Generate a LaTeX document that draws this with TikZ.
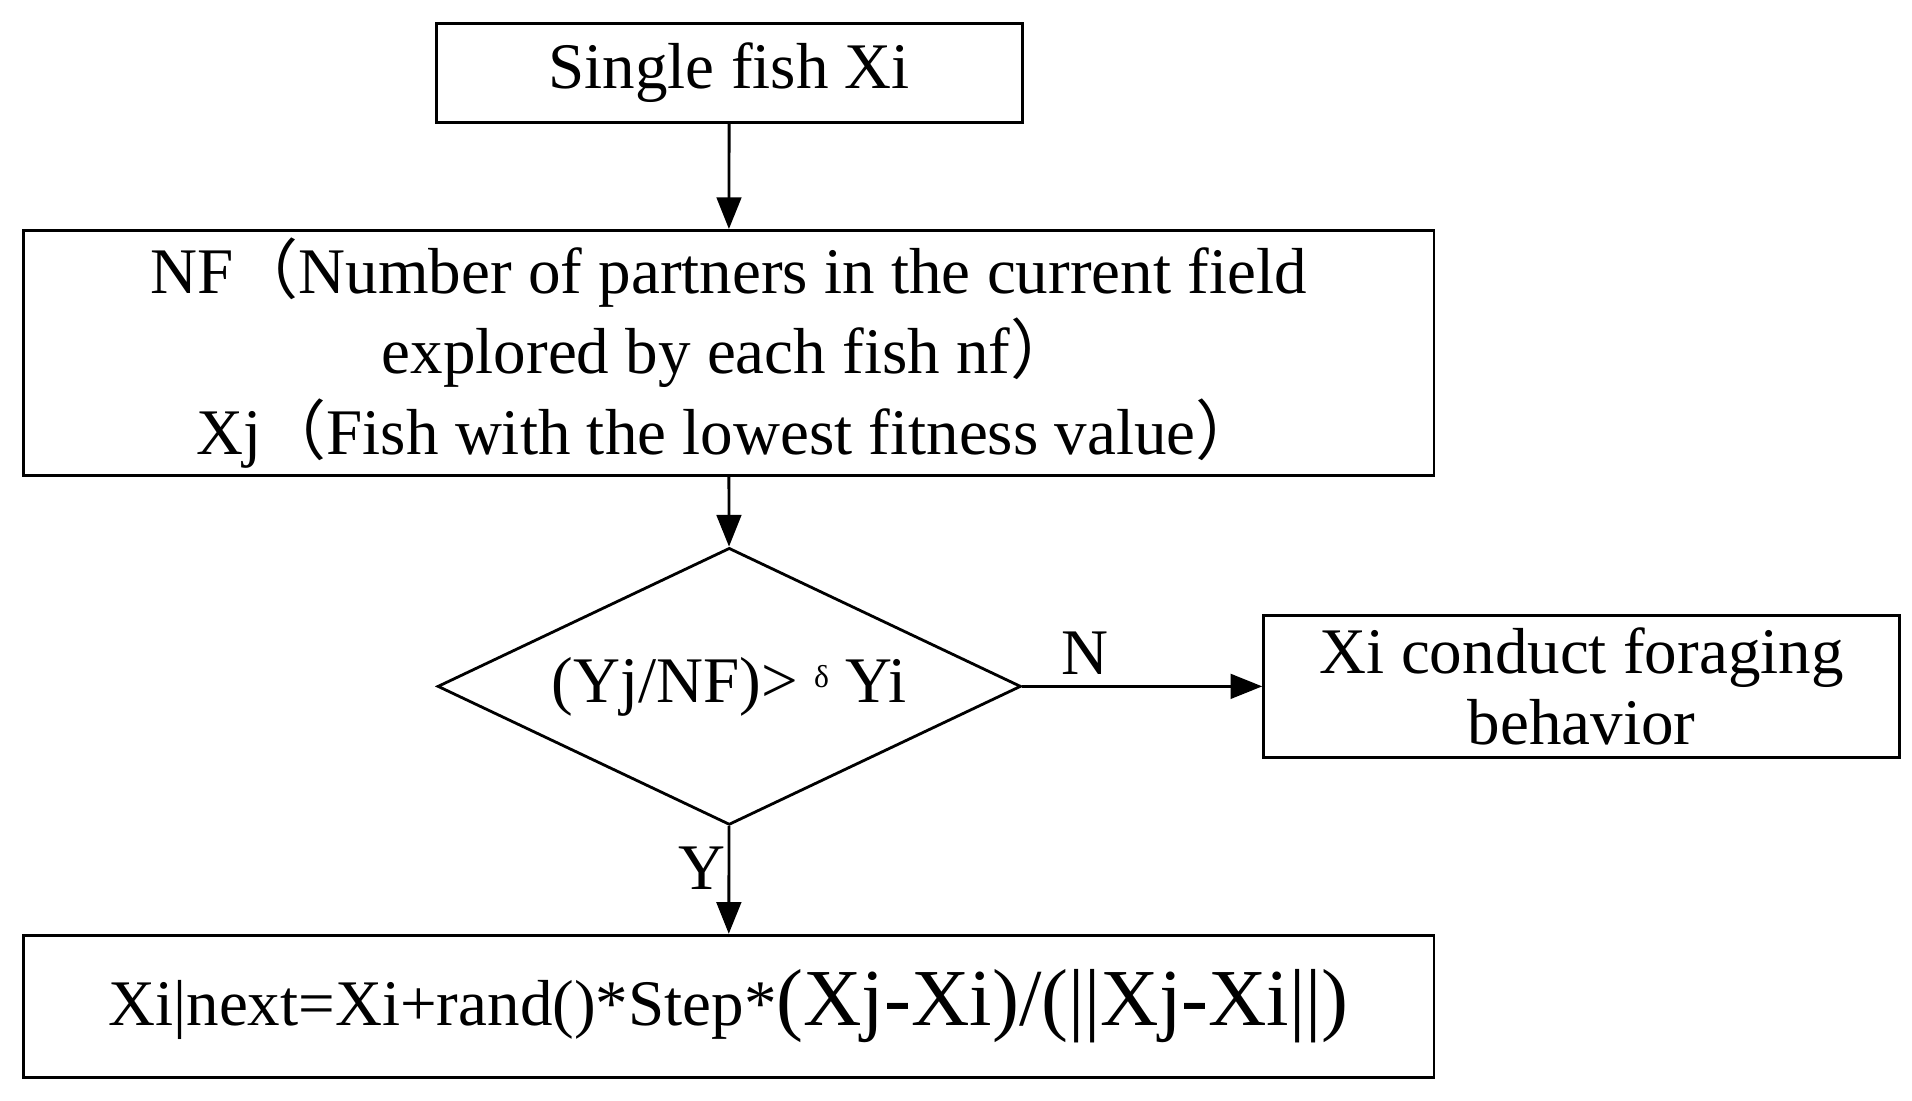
\documentclass[tikz,border=0pt]{standalone}
\usepackage{fontspec}
\setmainfont{Liberation Serif}
\newfontfamily\cjk{Noto Sans CJK SC}
\usetikzlibrary{shapes.geometric,arrows.meta}
\begin{document}
\begin{tikzpicture}[x=0.012256cm,y=-0.012256cm,
  box/.style={draw,thick,inner sep=0pt,align=center,font=\fontsize{18.5}{23}\selectfont},
  arr/.style={thick,-{Triangle[length=9pt,width=7pt]}},
  lbl/.style={font=\fontsize{18.5}{20}\selectfont}]
\useasboundingbox (0,0) rectangle (1560,898);
\node[box,minimum width=478*0.012256cm,minimum height=81*0.012256cm] (s) at (595,59.5) {Single fish Xi};
\node[box,minimum width=1151*0.012256cm,minimum height=200*0.012256cm] (nf) at (594.5,288)
  {NF{\cjk （}Number of partners in the current field\\explored by each fish nf{\cjk ）}\\Xj{\cjk （}Fish with the lowest fitness value{\cjk ）}};
\node[box,diamond,aspect=2.09,minimum width=476*0.012256cm,minimum height=226*0.012256cm] (d) at (595,560)
  {(Yj/NF)> \raisebox{0.5ex}{\small δ} Yi};
\node[box,font=\fontsize{18.5}{20}\selectfont,minimum width=519*0.012256cm,minimum height=116*0.012256cm] (f) at (1290.5,560)
  {Xi conduct foraging\\behavior};
\node[box,minimum width=1151*0.012256cm,minimum height=116*0.012256cm] (x) at (594.5,821)
  {Xi|next=Xi+rand()*Step*{\fontsize{23}{26}\selectfont(Xj-Xi)/(||Xj-Xi||)}};
\draw[arr] (s) -- (nf);
\draw[arr] (nf) -- (d);
\draw[arr] (d) -- (x);
\draw[arr] (d) -- (f);
\node[lbl] (n) at (885,533) {N};
\node[lbl] (y) at (573,708) {Y};
\end{tikzpicture}
\end{document}
